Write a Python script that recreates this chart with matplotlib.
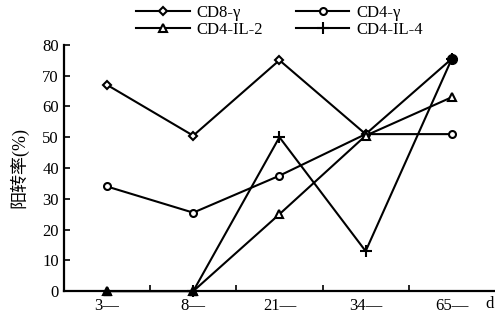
import numpy as np
import matplotlib
matplotlib.use("Agg")
import matplotlib.pyplot as plt

plt.rcParams["font.family"] = ["Liberation Serif", "Noto Sans CJK SC"]

days = ["3", "8", "21", "34", "65"]
cd8_gamma = [67, 50.5, 75, 51, 75.5]
cd4_gamma = [34, 25.5, 37.5, 51, 51]
cd4_il2 = [0, 0, 25, 50.5, 63]
cd4_il4 = [np.nan, 0, 50, 13, 75.5]

x = np.arange(len(days))

fig = plt.figure(figsize=(4.95, 3.2), dpi=100)
ax = fig.add_axes([0.129, 0.09, 0.871, 0.77])

lw = 1.5
h1, = ax.plot(x, cd8_gamma, color="black", lw=lw, marker="D", ms=4.5, mfc="white", mew=1.5, label="CD8-γ", clip_on=False)
h2, = ax.plot(x, cd4_gamma, color="black", lw=lw, marker="o", ms=5, mfc="white", mew=1.5, label="CD4-γ", clip_on=False)
h3, = ax.plot(x, cd4_il2, color="black", lw=lw, marker="^", ms=6, mfc="white", mew=1.5, label="CD4-IL-2", clip_on=False)
h4, = ax.plot(x, cd4_il4, color="black", lw=lw, marker="+", ms=8, mew=1.5, label="CD4-IL-4", clip_on=False)
# filled markers at the zero points and the shared end point
ax.plot([0, 1], [0, 0], ls="none", marker="^", ms=6, color="black", clip_on=False)
ax.plot([4], [75.5], ls="none", marker="o", ms=7, color="black", clip_on=False)

ax.set_xlim(-0.5, 4.5)
ax.set_ylim(0, 80)
ax.set_yticks(range(0, 81, 10))
ax.set_xticks(x)
ax.set_xticklabels([d + "—" for d in days], fontsize=12)
ax.set_xticks(x[:-1] + 0.5, minor=True)
ax.tick_params(axis="x", which="major", length=0, pad=5)
ax.tick_params(axis="x", which="minor", direction="in", length=4, width=1.2)
ax.tick_params(axis="y", direction="in", length=4, width=1.2, labelsize=12)
for s in ["top", "right"]:
    ax.spines[s].set_visible(False)
for s in ["left", "bottom"]:
    ax.spines[s].set_linewidth(1.6)

ax.set_ylabel("阳转率(%)", fontsize=13, labelpad=10)
ax.text(4.44, -0.02, "d", transform=ax.get_xaxis_transform(), fontsize=12, ha="center", va="top")

leg = ax.legend([h1, h3, h2, h4], ["CD8-γ", "CD4-IL-2", "CD4-γ", "CD4-IL-4"],
                loc="lower center", bbox_to_anchor=(0.5, 1.0), ncol=2, frameon=False,
                fontsize=12, handlelength=3.2, columnspacing=2.0, handletextpad=0.4,
                labelspacing=0.05, borderaxespad=0)

fig.savefig("out.png", dpi=100)
